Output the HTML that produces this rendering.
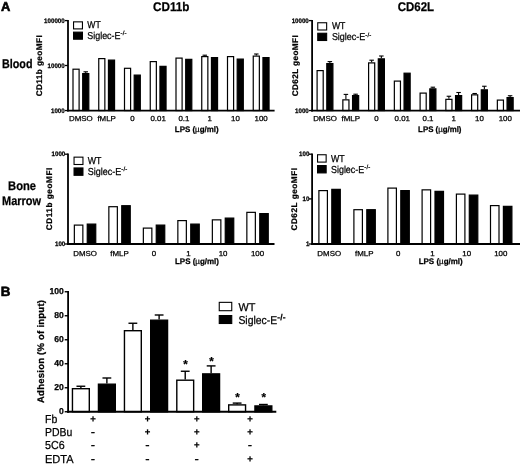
<!DOCTYPE html>
<html lang="en"><head><meta charset="utf-8"><title>Figure</title>
<style>html,body{margin:0;padding:0;background:#fff;}body{width:520px;height:464px;overflow:hidden;}svg{display:block;}text{font-family:"Liberation Sans", sans-serif;fill:#000;stroke:#000;stroke-width:0.25px;text-rendering:geometricPrecision;}</style>
</head><body>
<svg width="520" height="464" viewBox="0 0 520 464">
<rect width="520" height="464" fill="#fff"/>
<text x="1.00" y="11.20" font-size="12.9" font-weight="bold" text-anchor="start" style="stroke-width:0.6px">A</text>
<text x="0.70" y="296.30" font-size="13.4" font-weight="bold" text-anchor="start" style="stroke-width:0.6px">B</text>
<text x="153.00" y="10.50" font-size="12.6" font-weight="bold" text-anchor="start" textLength="36.5" lengthAdjust="spacingAndGlyphs">CD11b</text>
<text x="397.80" y="10.50" font-size="12.6" font-weight="bold" text-anchor="start" textLength="36.3" lengthAdjust="spacingAndGlyphs">CD62L</text>
<text x="2.00" y="68.30" font-size="12.6" font-weight="bold" text-anchor="start" textLength="30.5" lengthAdjust="spacingAndGlyphs">Blood</text>
<text x="8.10" y="189.80" font-size="12.5" font-weight="bold" text-anchor="start" textLength="28" lengthAdjust="spacingAndGlyphs">Bone</text>
<text x="2.00" y="205.00" font-size="12.5" font-weight="bold" text-anchor="start" textLength="39" lengthAdjust="spacingAndGlyphs">Marrow</text>
<rect x="73.00" y="69.20" width="6.10" height="41.35" fill="#fff" stroke="#000" stroke-width="1.2"/>
<rect x="82.70" y="73.60" width="6.10" height="36.95" fill="#000" stroke="#000" stroke-width="1.2"/>
<line x1="85.75" y1="73.00" x2="85.75" y2="71.80" stroke="#000" stroke-width="1.1"/>
<line x1="83.50" y1="71.80" x2="88.00" y2="71.80" stroke="#000" stroke-width="1.1"/>
<rect x="98.75" y="58.60" width="6.10" height="51.95" fill="#fff" stroke="#000" stroke-width="1.2"/>
<rect x="108.45" y="60.10" width="6.10" height="50.45" fill="#000" stroke="#000" stroke-width="1.2"/>
<rect x="124.50" y="68.30" width="6.10" height="42.25" fill="#fff" stroke="#000" stroke-width="1.2"/>
<rect x="134.20" y="75.10" width="6.10" height="35.45" fill="#000" stroke="#000" stroke-width="1.2"/>
<rect x="150.25" y="61.60" width="6.10" height="48.95" fill="#fff" stroke="#000" stroke-width="1.2"/>
<rect x="159.95" y="66.35" width="6.10" height="44.20" fill="#000" stroke="#000" stroke-width="1.2"/>
<rect x="176.00" y="58.10" width="6.10" height="52.45" fill="#fff" stroke="#000" stroke-width="1.2"/>
<rect x="185.70" y="59.35" width="6.10" height="51.20" fill="#000" stroke="#000" stroke-width="1.2"/>
<rect x="201.75" y="56.60" width="6.10" height="53.95" fill="#fff" stroke="#000" stroke-width="1.2"/>
<line x1="204.80" y1="56.00" x2="204.80" y2="55.20" stroke="#000" stroke-width="1.1"/>
<line x1="202.55" y1="55.20" x2="207.05" y2="55.20" stroke="#000" stroke-width="1.1"/>
<rect x="211.45" y="57.60" width="6.10" height="52.95" fill="#000" stroke="#000" stroke-width="1.2"/>
<rect x="227.50" y="56.60" width="6.10" height="53.95" fill="#fff" stroke="#000" stroke-width="1.2"/>
<rect x="237.20" y="59.10" width="6.10" height="51.45" fill="#000" stroke="#000" stroke-width="1.2"/>
<rect x="253.25" y="56.10" width="6.10" height="54.45" fill="#fff" stroke="#000" stroke-width="1.2"/>
<line x1="256.30" y1="55.50" x2="256.30" y2="54.00" stroke="#000" stroke-width="1.1"/>
<line x1="254.05" y1="54.00" x2="258.55" y2="54.00" stroke="#000" stroke-width="1.1"/>
<rect x="262.95" y="57.60" width="6.10" height="52.95" fill="#000" stroke="#000" stroke-width="1.2"/>
<line x1="68.00" y1="20.00" x2="68.00" y2="111.45" stroke="#000" stroke-width="1.8"/>
<line x1="67.10" y1="110.55" x2="274.60" y2="110.55" stroke="#000" stroke-width="1.8"/>
<line x1="64.90" y1="20.60" x2="68.00" y2="20.60" stroke="#000" stroke-width="1.3"/>
<text x="64.70" y="22.60" font-size="6.5" font-weight="bold" text-anchor="end" textLength="20.58" lengthAdjust="spacingAndGlyphs">100000</text>
<line x1="64.90" y1="65.50" x2="68.00" y2="65.50" stroke="#000" stroke-width="1.3"/>
<text x="64.70" y="67.50" font-size="6.5" font-weight="bold" text-anchor="end" textLength="17.15" lengthAdjust="spacingAndGlyphs">10000</text>
<line x1="64.90" y1="110.55" x2="68.00" y2="110.55" stroke="#000" stroke-width="1.3"/>
<text x="64.70" y="112.55" font-size="6.5" font-weight="bold" text-anchor="end" textLength="13.72" lengthAdjust="spacingAndGlyphs">1000</text>
<text x="80.90" y="121.30" font-size="7.25" font-weight="normal" text-anchor="middle" textLength="23.7" lengthAdjust="spacingAndGlyphs">DMSO</text>
<text x="106.65" y="121.30" font-size="7.25" font-weight="normal" text-anchor="middle" textLength="18.44" lengthAdjust="spacingAndGlyphs">fMLP</text>
<text x="132.40" y="121.30" font-size="7.25" font-weight="normal" text-anchor="middle" textLength="4.39" lengthAdjust="spacingAndGlyphs">0</text>
<text x="158.15" y="121.30" font-size="7.25" font-weight="normal" text-anchor="middle" textLength="15.37" lengthAdjust="spacingAndGlyphs">0.01</text>
<text x="183.90" y="121.30" font-size="7.25" font-weight="normal" text-anchor="middle" textLength="10.98" lengthAdjust="spacingAndGlyphs">0.1</text>
<text x="209.65" y="121.30" font-size="7.25" font-weight="normal" text-anchor="middle" textLength="4.39" lengthAdjust="spacingAndGlyphs">1</text>
<text x="235.40" y="121.30" font-size="7.25" font-weight="normal" text-anchor="middle" textLength="8.78" lengthAdjust="spacingAndGlyphs">10</text>
<text x="261.15" y="121.30" font-size="7.25" font-weight="normal" text-anchor="middle" textLength="13.18" lengthAdjust="spacingAndGlyphs">100</text>
<text transform="translate(42.40,65.80) rotate(-90)" font-size="8.2" font-weight="bold" text-anchor="middle" textLength="61" lengthAdjust="spacing">CD11b geoMFI</text>
<text x="196.70" y="131.60" font-size="8.1" font-weight="bold" text-anchor="middle" textLength="43.8" lengthAdjust="spacingAndGlyphs">LPS (<tspan font-weight="normal">µ</tspan>g/ml)</text>
<rect x="73.55" y="21.85" width="8.90" height="7.05" fill="#fff" stroke="#000" stroke-width="1.1"/>
<rect x="73.55" y="32.15" width="8.90" height="7.05" fill="#000" stroke="#000" stroke-width="1.1"/>
<text x="87.30" y="27.90" font-size="10.0" font-weight="normal" text-anchor="start" textLength="13.4" lengthAdjust="spacingAndGlyphs">WT</text>
<text x="87.30" y="38.80" font-size="10.0"><tspan textLength="33.2" lengthAdjust="spacingAndGlyphs">Siglec-E</tspan><tspan dy="-3.60" font-size="6.0" font-weight="normal" letter-spacing="0.2">-/-</tspan></text>
<rect x="317.10" y="70.60" width="6.10" height="39.95" fill="#fff" stroke="#000" stroke-width="1.2"/>
<rect x="326.80" y="63.60" width="6.10" height="46.95" fill="#000" stroke="#000" stroke-width="1.2"/>
<line x1="329.85" y1="63.00" x2="329.85" y2="61.60" stroke="#000" stroke-width="1.1"/>
<line x1="327.60" y1="61.60" x2="332.10" y2="61.60" stroke="#000" stroke-width="1.1"/>
<rect x="342.85" y="99.85" width="6.10" height="10.70" fill="#fff" stroke="#000" stroke-width="1.2"/>
<line x1="345.90" y1="99.25" x2="345.90" y2="94.40" stroke="#000" stroke-width="1.1"/>
<line x1="343.65" y1="94.40" x2="348.15" y2="94.40" stroke="#000" stroke-width="1.1"/>
<rect x="352.55" y="95.60" width="6.10" height="14.95" fill="#000" stroke="#000" stroke-width="1.2"/>
<line x1="355.60" y1="95.00" x2="355.60" y2="94.20" stroke="#000" stroke-width="1.1"/>
<line x1="353.35" y1="94.20" x2="357.85" y2="94.20" stroke="#000" stroke-width="1.1"/>
<rect x="368.60" y="62.90" width="6.10" height="47.65" fill="#fff" stroke="#000" stroke-width="1.2"/>
<line x1="371.65" y1="62.30" x2="371.65" y2="60.20" stroke="#000" stroke-width="1.1"/>
<line x1="369.40" y1="60.20" x2="373.90" y2="60.20" stroke="#000" stroke-width="1.1"/>
<rect x="378.30" y="58.85" width="6.10" height="51.70" fill="#000" stroke="#000" stroke-width="1.2"/>
<line x1="381.35" y1="58.25" x2="381.35" y2="56.00" stroke="#000" stroke-width="1.1"/>
<line x1="379.10" y1="56.00" x2="383.60" y2="56.00" stroke="#000" stroke-width="1.1"/>
<rect x="394.35" y="81.10" width="6.10" height="29.45" fill="#fff" stroke="#000" stroke-width="1.2"/>
<rect x="404.05" y="73.20" width="6.10" height="37.35" fill="#000" stroke="#000" stroke-width="1.2"/>
<rect x="420.10" y="93.10" width="6.10" height="17.45" fill="#fff" stroke="#000" stroke-width="1.2"/>
<rect x="429.80" y="88.85" width="6.10" height="21.70" fill="#000" stroke="#000" stroke-width="1.2"/>
<line x1="432.85" y1="88.25" x2="432.85" y2="87.20" stroke="#000" stroke-width="1.1"/>
<line x1="430.60" y1="87.20" x2="435.10" y2="87.20" stroke="#000" stroke-width="1.1"/>
<rect x="445.85" y="99.35" width="6.10" height="11.20" fill="#fff" stroke="#000" stroke-width="1.2"/>
<line x1="448.90" y1="98.75" x2="448.90" y2="96.25" stroke="#000" stroke-width="1.1"/>
<line x1="446.65" y1="96.25" x2="451.15" y2="96.25" stroke="#000" stroke-width="1.1"/>
<rect x="455.55" y="95.60" width="6.10" height="14.95" fill="#000" stroke="#000" stroke-width="1.2"/>
<line x1="458.60" y1="95.00" x2="458.60" y2="92.50" stroke="#000" stroke-width="1.1"/>
<line x1="456.35" y1="92.50" x2="460.85" y2="92.50" stroke="#000" stroke-width="1.1"/>
<rect x="471.60" y="94.85" width="6.10" height="15.70" fill="#fff" stroke="#000" stroke-width="1.2"/>
<line x1="474.65" y1="94.25" x2="474.65" y2="93.50" stroke="#000" stroke-width="1.1"/>
<line x1="472.40" y1="93.50" x2="476.90" y2="93.50" stroke="#000" stroke-width="1.1"/>
<rect x="481.30" y="89.85" width="6.10" height="20.70" fill="#000" stroke="#000" stroke-width="1.2"/>
<line x1="484.35" y1="89.25" x2="484.35" y2="86.25" stroke="#000" stroke-width="1.1"/>
<line x1="482.10" y1="86.25" x2="486.60" y2="86.25" stroke="#000" stroke-width="1.1"/>
<rect x="497.35" y="100.10" width="6.10" height="10.45" fill="#fff" stroke="#000" stroke-width="1.2"/>
<rect x="507.05" y="97.60" width="6.10" height="12.95" fill="#000" stroke="#000" stroke-width="1.2"/>
<line x1="510.10" y1="97.00" x2="510.10" y2="95.75" stroke="#000" stroke-width="1.1"/>
<line x1="507.85" y1="95.75" x2="512.35" y2="95.75" stroke="#000" stroke-width="1.1"/>
<line x1="312.10" y1="20.00" x2="312.10" y2="111.45" stroke="#000" stroke-width="1.8"/>
<line x1="311.20" y1="110.55" x2="520.00" y2="110.55" stroke="#000" stroke-width="1.8"/>
<line x1="309.00" y1="20.60" x2="312.10" y2="20.60" stroke="#000" stroke-width="1.3"/>
<text x="308.80" y="22.60" font-size="6.5" font-weight="bold" text-anchor="end" textLength="17.15" lengthAdjust="spacingAndGlyphs">10000</text>
<line x1="309.00" y1="110.55" x2="312.10" y2="110.55" stroke="#000" stroke-width="1.3"/>
<text x="308.80" y="112.55" font-size="6.5" font-weight="bold" text-anchor="end" textLength="13.72" lengthAdjust="spacingAndGlyphs">1000</text>
<text x="325.00" y="121.30" font-size="7.25" font-weight="normal" text-anchor="middle" textLength="23.7" lengthAdjust="spacingAndGlyphs">DMSO</text>
<text x="350.75" y="121.30" font-size="7.25" font-weight="normal" text-anchor="middle" textLength="18.44" lengthAdjust="spacingAndGlyphs">fMLP</text>
<text x="376.50" y="121.30" font-size="7.25" font-weight="normal" text-anchor="middle" textLength="4.39" lengthAdjust="spacingAndGlyphs">0</text>
<text x="402.25" y="121.30" font-size="7.25" font-weight="normal" text-anchor="middle" textLength="15.37" lengthAdjust="spacingAndGlyphs">0.01</text>
<text x="428.00" y="121.30" font-size="7.25" font-weight="normal" text-anchor="middle" textLength="10.98" lengthAdjust="spacingAndGlyphs">0.1</text>
<text x="453.75" y="121.30" font-size="7.25" font-weight="normal" text-anchor="middle" textLength="4.39" lengthAdjust="spacingAndGlyphs">1</text>
<text x="479.50" y="121.30" font-size="7.25" font-weight="normal" text-anchor="middle" textLength="8.78" lengthAdjust="spacingAndGlyphs">10</text>
<text x="505.25" y="121.30" font-size="7.25" font-weight="normal" text-anchor="middle" textLength="13.18" lengthAdjust="spacingAndGlyphs">100</text>
<text transform="translate(298.00,65.80) rotate(-90)" font-size="8.2" font-weight="bold" text-anchor="middle" textLength="61" lengthAdjust="spacing">CD62L geoMFI</text>
<text x="439.80" y="131.60" font-size="8.1" font-weight="bold" text-anchor="middle" textLength="43.4" lengthAdjust="spacingAndGlyphs">LPS (<tspan font-weight="normal">µ</tspan>g/ml)</text>
<rect x="317.75" y="22.75" width="8.90" height="7.25" fill="#fff" stroke="#000" stroke-width="1.1"/>
<rect x="317.75" y="33.25" width="8.90" height="7.25" fill="#000" stroke="#000" stroke-width="1.1"/>
<text x="331.90" y="29.20" font-size="10.0" font-weight="normal" text-anchor="start" textLength="13.5" lengthAdjust="spacingAndGlyphs">WT</text>
<text x="331.90" y="40.40" font-size="10.0"><tspan textLength="33.4" lengthAdjust="spacingAndGlyphs">Siglec-E</tspan><tspan dy="-3.60" font-size="6.0" font-weight="normal" letter-spacing="0.2">-/-</tspan></text>
<rect x="74.35" y="225.10" width="8.50" height="18.90" fill="#fff" stroke="#000" stroke-width="1.2"/>
<rect x="87.25" y="224.10" width="8.50" height="19.90" fill="#000" stroke="#000" stroke-width="1.2"/>
<rect x="108.85" y="206.70" width="8.50" height="37.30" fill="#fff" stroke="#000" stroke-width="1.2"/>
<rect x="121.75" y="205.70" width="8.50" height="38.30" fill="#000" stroke="#000" stroke-width="1.2"/>
<rect x="143.35" y="228.10" width="8.50" height="15.90" fill="#fff" stroke="#000" stroke-width="1.2"/>
<rect x="156.25" y="225.10" width="8.50" height="18.90" fill="#000" stroke="#000" stroke-width="1.2"/>
<rect x="177.85" y="220.60" width="8.50" height="23.40" fill="#fff" stroke="#000" stroke-width="1.2"/>
<rect x="190.75" y="224.10" width="8.50" height="19.90" fill="#000" stroke="#000" stroke-width="1.2"/>
<rect x="212.35" y="219.85" width="8.50" height="24.15" fill="#fff" stroke="#000" stroke-width="1.2"/>
<rect x="225.25" y="218.10" width="8.50" height="25.90" fill="#000" stroke="#000" stroke-width="1.2"/>
<rect x="246.85" y="212.35" width="8.50" height="31.65" fill="#fff" stroke="#000" stroke-width="1.2"/>
<rect x="259.75" y="213.60" width="8.50" height="30.40" fill="#000" stroke="#000" stroke-width="1.2"/>
<line x1="68.00" y1="153.60" x2="68.00" y2="244.90" stroke="#000" stroke-width="1.8"/>
<line x1="67.10" y1="244.00" x2="274.50" y2="244.00" stroke="#000" stroke-width="1.8"/>
<line x1="64.90" y1="154.20" x2="68.00" y2="154.20" stroke="#000" stroke-width="1.3"/>
<text x="65.30" y="156.20" font-size="6.5" font-weight="bold" text-anchor="end" textLength="13.72" lengthAdjust="spacingAndGlyphs">1000</text>
<line x1="64.90" y1="244.00" x2="68.00" y2="244.00" stroke="#000" stroke-width="1.3"/>
<text x="65.30" y="246.00" font-size="6.5" font-weight="bold" text-anchor="end" textLength="10.29" lengthAdjust="spacingAndGlyphs">100</text>
<text x="85.05" y="255.60" font-size="7.25" font-weight="normal" text-anchor="middle" textLength="23.7" lengthAdjust="spacingAndGlyphs">DMSO</text>
<text x="119.55" y="255.60" font-size="7.25" font-weight="normal" text-anchor="middle" textLength="18.44" lengthAdjust="spacingAndGlyphs">fMLP</text>
<text x="154.05" y="255.60" font-size="7.25" font-weight="normal" text-anchor="middle" textLength="4.39" lengthAdjust="spacingAndGlyphs">0</text>
<text x="188.55" y="255.60" font-size="7.25" font-weight="normal" text-anchor="middle" textLength="4.39" lengthAdjust="spacingAndGlyphs">1</text>
<text x="223.05" y="255.60" font-size="7.25" font-weight="normal" text-anchor="middle" textLength="8.78" lengthAdjust="spacingAndGlyphs">10</text>
<text x="257.55" y="255.60" font-size="7.25" font-weight="normal" text-anchor="middle" textLength="13.18" lengthAdjust="spacingAndGlyphs">100</text>
<text transform="translate(52.00,199.00) rotate(-90)" font-size="8.2" font-weight="bold" text-anchor="middle" textLength="62.5" lengthAdjust="spacing">CD11b geoMFI</text>
<text x="197.00" y="264.10" font-size="8.1" font-weight="bold" text-anchor="middle" textLength="44" lengthAdjust="spacingAndGlyphs">LPS (<tspan font-weight="normal">µ</tspan>g/ml)</text>
<rect x="74.05" y="157.15" width="8.90" height="7.35" fill="#fff" stroke="#000" stroke-width="1.1"/>
<rect x="74.05" y="167.95" width="8.90" height="7.35" fill="#000" stroke="#000" stroke-width="1.1"/>
<text x="87.80" y="164.20" font-size="10.1" font-weight="normal" text-anchor="start" textLength="13.7" lengthAdjust="spacingAndGlyphs">WT</text>
<text x="87.80" y="174.80" font-size="10.1"><tspan textLength="33.4" lengthAdjust="spacingAndGlyphs">Siglec-E</tspan><tspan dy="-3.64" font-size="6.0" font-weight="normal" letter-spacing="0.2">-/-</tspan></text>
<rect x="318.90" y="190.60" width="8.50" height="53.40" fill="#fff" stroke="#000" stroke-width="1.2"/>
<rect x="331.80" y="189.35" width="8.50" height="54.65" fill="#000" stroke="#000" stroke-width="1.2"/>
<rect x="353.90" y="209.70" width="8.50" height="34.30" fill="#fff" stroke="#000" stroke-width="1.2"/>
<rect x="366.80" y="209.70" width="8.50" height="34.30" fill="#000" stroke="#000" stroke-width="1.2"/>
<rect x="387.90" y="188.10" width="8.50" height="55.90" fill="#fff" stroke="#000" stroke-width="1.2"/>
<rect x="400.80" y="190.60" width="8.50" height="53.40" fill="#000" stroke="#000" stroke-width="1.2"/>
<rect x="422.10" y="189.85" width="8.50" height="54.15" fill="#fff" stroke="#000" stroke-width="1.2"/>
<rect x="435.00" y="191.35" width="8.50" height="52.65" fill="#000" stroke="#000" stroke-width="1.2"/>
<rect x="456.40" y="194.10" width="8.50" height="49.90" fill="#fff" stroke="#000" stroke-width="1.2"/>
<rect x="469.30" y="195.10" width="8.50" height="48.90" fill="#000" stroke="#000" stroke-width="1.2"/>
<rect x="490.50" y="205.60" width="8.50" height="38.40" fill="#fff" stroke="#000" stroke-width="1.2"/>
<rect x="503.40" y="206.35" width="8.50" height="37.65" fill="#000" stroke="#000" stroke-width="1.2"/>
<line x1="312.10" y1="153.60" x2="312.10" y2="244.90" stroke="#000" stroke-width="1.8"/>
<line x1="311.20" y1="244.00" x2="520.00" y2="244.00" stroke="#000" stroke-width="1.8"/>
<line x1="309.00" y1="154.20" x2="312.10" y2="154.20" stroke="#000" stroke-width="1.3"/>
<text x="309.40" y="156.20" font-size="6.5" font-weight="bold" text-anchor="end" textLength="10.29" lengthAdjust="spacingAndGlyphs">100</text>
<line x1="309.00" y1="198.90" x2="312.10" y2="198.90" stroke="#000" stroke-width="1.3"/>
<text x="309.40" y="200.90" font-size="6.5" font-weight="bold" text-anchor="end" textLength="6.86" lengthAdjust="spacingAndGlyphs">10</text>
<line x1="309.00" y1="244.00" x2="312.10" y2="244.00" stroke="#000" stroke-width="1.3"/>
<text x="309.40" y="246.00" font-size="6.5" font-weight="bold" text-anchor="end" textLength="3.43" lengthAdjust="spacingAndGlyphs">1</text>
<text x="329.20" y="255.60" font-size="7.25" font-weight="normal" text-anchor="middle" textLength="23.7" lengthAdjust="spacingAndGlyphs">DMSO</text>
<text x="364.20" y="255.60" font-size="7.25" font-weight="normal" text-anchor="middle" textLength="18.44" lengthAdjust="spacingAndGlyphs">fMLP</text>
<text x="398.20" y="255.60" font-size="7.25" font-weight="normal" text-anchor="middle" textLength="4.39" lengthAdjust="spacingAndGlyphs">0</text>
<text x="432.40" y="255.60" font-size="7.25" font-weight="normal" text-anchor="middle" textLength="4.39" lengthAdjust="spacingAndGlyphs">1</text>
<text x="466.70" y="255.60" font-size="7.25" font-weight="normal" text-anchor="middle" textLength="8.78" lengthAdjust="spacingAndGlyphs">10</text>
<text x="500.80" y="255.60" font-size="7.25" font-weight="normal" text-anchor="middle" textLength="13.18" lengthAdjust="spacingAndGlyphs">100</text>
<text transform="translate(296.90,199.30) rotate(-90)" font-size="8.2" font-weight="bold" text-anchor="middle" textLength="62.5" lengthAdjust="spacing">CD62L geoMFI</text>
<text x="440.70" y="264.10" font-size="8.1" font-weight="bold" text-anchor="middle" textLength="44" lengthAdjust="spacingAndGlyphs">LPS (<tspan font-weight="normal">µ</tspan>g/ml)</text>
<rect x="317.55" y="154.75" width="8.60" height="7.35" fill="#fff" stroke="#000" stroke-width="1.1"/>
<rect x="317.55" y="165.55" width="8.60" height="7.35" fill="#000" stroke="#000" stroke-width="1.1"/>
<text x="331.00" y="161.90" font-size="10.1" font-weight="normal" text-anchor="start" textLength="13.7" lengthAdjust="spacingAndGlyphs">WT</text>
<text x="331.00" y="172.70" font-size="10.1"><tspan textLength="33.2" lengthAdjust="spacingAndGlyphs">Siglec-E</tspan><tspan dy="-3.64" font-size="6.0" font-weight="normal" letter-spacing="0.2">-/-</tspan></text>
<rect x="72.45" y="388.70" width="16.85" height="23.05" fill="#fff" stroke="#000" stroke-width="1.4"/>
<line x1="80.88" y1="388.00" x2="80.88" y2="386.25" stroke="#000" stroke-width="1.4"/>
<line x1="76.47" y1="386.25" x2="85.28" y2="386.25" stroke="#000" stroke-width="1.4"/>
<rect x="98.45" y="384.20" width="16.85" height="27.55" fill="#000" stroke="#000" stroke-width="1.4"/>
<line x1="106.88" y1="383.50" x2="106.88" y2="378.00" stroke="#000" stroke-width="1.4"/>
<line x1="102.47" y1="378.00" x2="111.28" y2="378.00" stroke="#000" stroke-width="1.4"/>
<rect x="124.45" y="330.70" width="16.85" height="81.05" fill="#fff" stroke="#000" stroke-width="1.4"/>
<line x1="132.88" y1="330.00" x2="132.88" y2="323.25" stroke="#000" stroke-width="1.4"/>
<line x1="128.47" y1="323.25" x2="137.28" y2="323.25" stroke="#000" stroke-width="1.4"/>
<rect x="150.70" y="320.20" width="16.85" height="91.55" fill="#000" stroke="#000" stroke-width="1.4"/>
<line x1="159.12" y1="319.50" x2="159.12" y2="315.00" stroke="#000" stroke-width="1.4"/>
<line x1="154.72" y1="315.00" x2="163.53" y2="315.00" stroke="#000" stroke-width="1.4"/>
<rect x="176.80" y="380.20" width="16.85" height="31.55" fill="#fff" stroke="#000" stroke-width="1.4"/>
<line x1="185.22" y1="379.50" x2="185.22" y2="371.25" stroke="#000" stroke-width="1.4"/>
<line x1="180.82" y1="371.25" x2="189.62" y2="371.25" stroke="#000" stroke-width="1.4"/>
<rect x="202.70" y="373.90" width="16.85" height="37.85" fill="#000" stroke="#000" stroke-width="1.4"/>
<line x1="211.12" y1="373.20" x2="211.12" y2="365.90" stroke="#000" stroke-width="1.4"/>
<line x1="206.72" y1="365.90" x2="215.53" y2="365.90" stroke="#000" stroke-width="1.4"/>
<rect x="228.70" y="404.90" width="16.85" height="6.85" fill="#fff" stroke="#000" stroke-width="1.4"/>
<line x1="237.12" y1="404.20" x2="237.12" y2="403.10" stroke="#000" stroke-width="1.4"/>
<line x1="232.72" y1="403.10" x2="241.53" y2="403.10" stroke="#000" stroke-width="1.4"/>
<rect x="254.95" y="405.95" width="16.85" height="5.80" fill="#000" stroke="#000" stroke-width="1.4"/>
<line x1="263.38" y1="405.25" x2="263.38" y2="404.50" stroke="#000" stroke-width="1.4"/>
<line x1="258.98" y1="404.50" x2="267.77" y2="404.50" stroke="#000" stroke-width="1.4"/>
<line x1="68.10" y1="291.00" x2="68.10" y2="412.65" stroke="#000" stroke-width="1.8"/>
<line x1="67.20" y1="411.75" x2="276.30" y2="411.75" stroke="#000" stroke-width="1.8"/>
<line x1="64.70" y1="411.75" x2="68.10" y2="411.75" stroke="#000" stroke-width="1.4"/>
<text x="63.80" y="414.25" font-size="8.6" font-weight="bold" text-anchor="end">0</text>
<line x1="64.70" y1="387.75" x2="68.10" y2="387.75" stroke="#000" stroke-width="1.4"/>
<text x="63.80" y="390.25" font-size="8.6" font-weight="bold" text-anchor="end">20</text>
<line x1="64.70" y1="363.75" x2="68.10" y2="363.75" stroke="#000" stroke-width="1.4"/>
<text x="63.80" y="366.25" font-size="8.6" font-weight="bold" text-anchor="end">40</text>
<line x1="64.70" y1="339.75" x2="68.10" y2="339.75" stroke="#000" stroke-width="1.4"/>
<text x="63.80" y="342.25" font-size="8.6" font-weight="bold" text-anchor="end">60</text>
<line x1="64.70" y1="315.75" x2="68.10" y2="315.75" stroke="#000" stroke-width="1.4"/>
<text x="63.80" y="318.25" font-size="8.6" font-weight="bold" text-anchor="end">80</text>
<line x1="64.70" y1="291.75" x2="68.10" y2="291.75" stroke="#000" stroke-width="1.4"/>
<text x="63.80" y="294.25" font-size="8.6" font-weight="bold" text-anchor="end">100</text>
<text transform="translate(44.00,351.50) rotate(-90)" font-size="9.5" font-weight="bold" text-anchor="middle" textLength="103" lengthAdjust="spacing">Adhesion (% of input)</text>
<text x="185.50" y="368.40" font-size="11.5" font-weight="bold" text-anchor="middle">*</text>
<text x="211.50" y="365.30" font-size="11.5" font-weight="bold" text-anchor="middle">*</text>
<text x="237.50" y="401.40" font-size="11.5" font-weight="bold" text-anchor="middle">*</text>
<text x="263.75" y="401.40" font-size="11.5" font-weight="bold" text-anchor="middle">*</text>
<rect x="219.25" y="302.35" width="12.50" height="8.35" fill="#fff" stroke="#000" stroke-width="1.1"/>
<rect x="219.25" y="315.55" width="12.50" height="7.95" fill="#000" stroke="#000" stroke-width="1.1"/>
<text x="238.40" y="310.70" font-size="11.4" font-weight="normal" text-anchor="start" textLength="16.9" lengthAdjust="spacingAndGlyphs">WT</text>
<text x="238.40" y="324.00" font-size="11.4"><tspan textLength="38.8" lengthAdjust="spacingAndGlyphs">Siglec-E</tspan><tspan dy="-4.10" font-size="8.4" font-weight="bold" letter-spacing="0.2">-/-</tspan></text>
<text x="45.00" y="423.00" font-size="11.6" font-weight="normal" text-anchor="start" textLength="12.2" lengthAdjust="spacingAndGlyphs">Fb</text>
<text x="45.00" y="436.40" font-size="11.6" font-weight="normal" text-anchor="start" textLength="27.3" lengthAdjust="spacingAndGlyphs">PDBu</text>
<text x="45.00" y="449.40" font-size="11.6" font-weight="normal" text-anchor="start" textLength="19.6" lengthAdjust="spacingAndGlyphs">5C6</text>
<text x="45.00" y="462.90" font-size="11.6" font-weight="normal" text-anchor="start" textLength="28.6" lengthAdjust="spacingAndGlyphs">EDTA</text>
<text x="93.00" y="422.45" font-size="9.5" font-weight="bold" text-anchor="middle">+</text>
<text x="93.00" y="436.15" font-size="13" font-weight="normal" text-anchor="middle">-</text>
<text x="93.00" y="449.40" font-size="13" font-weight="normal" text-anchor="middle">-</text>
<text x="93.00" y="463.10" font-size="13" font-weight="normal" text-anchor="middle">-</text>
<text x="147.50" y="422.45" font-size="9.5" font-weight="bold" text-anchor="middle">+</text>
<text x="147.50" y="435.45" font-size="9.5" font-weight="bold" text-anchor="middle">+</text>
<text x="147.50" y="449.40" font-size="13" font-weight="normal" text-anchor="middle">-</text>
<text x="147.50" y="463.10" font-size="13" font-weight="normal" text-anchor="middle">-</text>
<text x="196.75" y="422.45" font-size="9.5" font-weight="bold" text-anchor="middle">+</text>
<text x="196.75" y="435.45" font-size="9.5" font-weight="bold" text-anchor="middle">+</text>
<text x="196.75" y="448.40" font-size="9.5" font-weight="bold" text-anchor="middle">+</text>
<text x="196.75" y="463.10" font-size="13" font-weight="normal" text-anchor="middle">-</text>
<text x="250.00" y="422.45" font-size="9.5" font-weight="bold" text-anchor="middle">+</text>
<text x="250.00" y="435.45" font-size="9.5" font-weight="bold" text-anchor="middle">+</text>
<text x="250.00" y="449.40" font-size="13" font-weight="normal" text-anchor="middle">-</text>
<text x="250.00" y="461.70" font-size="9.5" font-weight="bold" text-anchor="middle">+</text>
</svg>
</body></html>
